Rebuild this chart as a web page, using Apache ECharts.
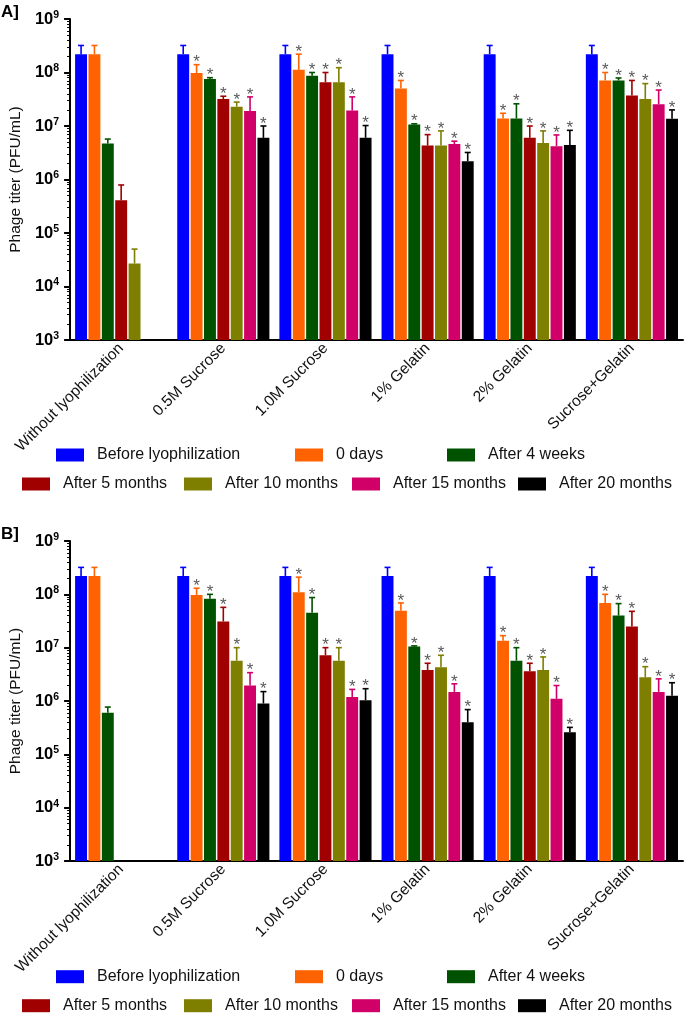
<!DOCTYPE html>
<html><head><meta charset="utf-8">
<script src="https://cdn.jsdelivr.net/npm/echarts@6/dist/echarts.min.js"></script>
<style>html,body{margin:0;padding:0;background:#fff}#c{width:685px;height:1017px}</style>
</head><body><div id="c"></div>
<script>
const categories = ['Without lyophilization','0.5M Sucrose','1.0M Sucrose','1% Gelatin','2% Gelatin','Sucrose+Gelatin'];
const seriesNames = ['Before lyophilization','0 days','After 4 weeks','After 5 months','After 10 months','After 15 months','After 20 months'];
const seriesColors = ['#0000FF','#FF6200','#005200','#A00000','#7E7E00','#D00068','#000000'];
const starredCategories = [false,true,true,true,true,true];

// Panel A values and upper error limits
const aBefore   = [2.2e8, 2.2e8, 2.2e8, 2.2e8, 2.2e8, 2.2e8];
const aDay0     = [2.2e8, 9.8e7, 1.12e8, 5.0e7, 1.38e7, 7.1e7];
const aWeek4    = [4.7e6, 7.6e7, 8.7e7, 1.07e7, 1.38e7, 7.1e7];
const aMonth5   = [4.1e5, 3.2e7, 6.6e7, 4.3e6, 6.0e6, 3.7e7];
const aMonth10  = [2.7e4, 2.3e7, 6.6e7, 4.3e6, 4.8e6, 3.2e7];
const aMonth15  = [null, 1.9e7, 1.94e7, 4.6e6, 4.2e6, 2.55e7];
const aMonth20  = [null, 6.0e6, 6.0e6, 2.2e6, 4.4e6, 1.37e7];
const aBeforeErr  = [3.2e8, 3.2e8, 3.2e8, 3.2e8, 3.2e8, 3.2e8];
const aDay0Err    = [3.2e8, 1.4e8, 2.2e8, 7.1e7, 1.73e7, 1.0e8];
const aWeek4Err   = [5.7e6, 8.0e7, 1.0e8, 1.1e7, 2.6e7, 7.9e7];
const aMonth5Err  = [7.9e5, 3.6e7, 1.0e8, 6.9e6, 1.0e7, 7.1e7];
const aMonth10Err = [5.0e4, 2.8e7, 1.23e8, 8.1e6, 8.1e6, 6.2e7];
const aMonth15Err = [null, 3.5e7, 3.5e7, 5.2e6, 6.8e6, 4.7e7];
const aMonth20Err = [null, 1.0e7, 1.02e7, 3.2e6, 8.3e6, 2.0e7];

// Panel B values and upper error limits
const bBefore   = [2.2e8, 2.2e8, 2.2e8, 2.2e8, 2.2e8, 2.2e8];
const bDay0     = [2.2e8, 9.7e7, 1.1e8, 4.9e7, 1.35e7, 6.9e7];
const bWeek4    = [6.0e5, 8.3e7, 4.5e7, 1.05e7, 5.7e6, 4.0e7];
const bMonth5   = [null, 3.1e7, 7.2e6, 3.8e6, 3.6e6, 2.5e7];
const bMonth10  = [null, 5.7e6, 5.7e6, 4.3e6, 3.8e6, 2.8e6];
const bMonth15  = [null, 1.95e6, 1.19e6, 1.48e6, 1.1e6, 1.48e6];
const bMonth20  = [null, 9.0e5, 1.03e6, 4.0e5, 2.6e5, 1.26e6];
const bBeforeErr  = [3.2e8, 3.2e8, 3.2e8, 3.2e8, 3.2e8, 3.2e8];
const bDay0Err    = [3.2e8, 1.3e8, 2.1e8, 6.9e7, 1.68e7, 1.0e8];
const bWeek4Err   = [7.7e5, 1.0e8, 8.7e7, 1.08e7, 1.0e7, 6.7e7];
const bMonth5Err  = [null, 5.7e7, 1.0e7, 5.1e6, 5.1e6, 4.8e7];
const bMonth10Err = [null, 1.0e7, 1.0e7, 7.2e6, 6.7e6, 4.4e6];
const bMonth15Err = [null, 3.4e6, 1.65e6, 2.1e6, 1.95e6, 2.6e6];
const bMonth20Err = [null, 1.5e6, 1.7e6, 6.9e5, 3.2e5, 2.2e6];

const panelTitles = ['A]', 'B]'];
const yAxisName = 'Phage titer (PFU/mL)';
const yMin = 1e3, yMax = 1e9;

const aValues = [aBefore, aDay0, aWeek4, aMonth5, aMonth10, aMonth15, aMonth20];
const aErrors = [aBeforeErr, aDay0Err, aWeek4Err, aMonth5Err, aMonth10Err, aMonth15Err, aMonth20Err];
const bValues = [bBefore, bDay0, bWeek4, bMonth5, bMonth10, bMonth15, bMonth20];
const bErrors = [bBeforeErr, bDay0Err, bWeek4Err, bMonth5Err, bMonth10Err, bMonth15Err, bMonth20Err];

const FONT = 'Liberation Sans, Arial, sans-serif';
const CAT_GAP = 0.098, BAR_GAP = 0.12, N = seriesNames.length;

const grids = [
  {left: 69, top: 19, width: 614, height: 321},
  {left: 69, top: 541, width: 614, height: 320}
];

function xAxisFor(i) {
  return {
    type: 'category', gridIndex: i, data: categories, boundaryGap: true,
    axisLine: {lineStyle: {color: '#000', width: 2}},
    axisTick: {alignWithLabel: true, length: 6, lineStyle: {color: '#000', width: 2}},
    axisLabel: {rotate: 45, fontSize: 15.5, color: '#111', margin: 6, fontFamily: FONT, interval: 0}
  };
}
function yAxisFor(i) {
  return {
    type: 'log', logBase: 10, gridIndex: i, min: yMin, max: yMax,
    name: yAxisName, nameLocation: 'middle', nameGap: 39,
    nameTextStyle: {fontSize: 15.5, color: '#111', fontFamily: FONT},
    axisLine: {show: true, lineStyle: {color: '#000', width: 2}},
    axisTick: {show: true, length: 6, lineStyle: {color: '#000', width: 2}},
    minorTick: {show: true, splitNumber: 9, length: 3, lineStyle: {color: '#000', width: 1}},
    splitLine: {show: false}, minorSplitLine: {show: false},
    axisLabel: {
      margin: 11, fontFamily: FONT,
      formatter: v => '{b|10}{s|' + Math.round(Math.log10(v)) + '}',
      rich: {
        b: {fontSize: 16.5, fontWeight: 'bold', color: '#000', fontFamily: FONT},
        s: {fontSize: 10.5, fontWeight: 'bold', color: '#000', fontFamily: FONT, padding: [0, 0, 8, 0]}
      }
    }
  };
}

function renderErr(params, api) {
  const cat = api.value(0), val = api.value(1), err = api.value(2), si = api.value(3), star = api.value(4);
  const p0 = api.coord([cat, val]);
  const p1 = api.coord([cat, err]);
  const band = api.coord([1, val])[0] - api.coord([0, val])[0];
  const usable = band * (1 - CAT_GAP);
  const bw = usable / (N + (N - 1) * BAR_GAP);
  const x = p0[0] - usable / 2 + si * bw * (1 + BAR_GAP) + bw / 2;
  const color = seriesColors[si];
  const children = [
    {type: 'line', shape: {x1: x, y1: p0[1], x2: x, y2: p1[1]}, style: {stroke: color, lineWidth: 1.6}},
    {type: 'line', shape: {x1: x - 3, y1: p1[1], x2: x + 3, y2: p1[1]}, style: {stroke: color, lineWidth: 1.6}}
  ];
  if (star) {
    children.push({type: 'text', style: {text: '*', x: x, y: p1[1] - 2, align: 'center', verticalAlign: 'middle',
      fill: '#5a5a5a', font: '17px ' + FONT}});
  }
  return {type: 'group', children: children};
}

const series = [];
[[aValues, aErrors], [bValues, bErrors]].forEach(([vals, errs], pi) => {
  vals.forEach((arr, si) => {
    series.push({
      type: 'bar', name: seriesNames[si], xAxisIndex: pi, yAxisIndex: pi, data: arr,
      barGap: (BAR_GAP * 100) + '%', barCategoryGap: (CAT_GAP * 100) + '%',
      itemStyle: {color: seriesColors[si]}, clip: true
    });
  });
  const errData = [];
  vals.forEach((arr, si) => {
    arr.forEach((v, ci) => {
      if (v != null && errs[si][ci] != null) {
        errData.push([ci, v, errs[si][ci], si, (si > 0 && starredCategories[ci]) ? 1 : 0]);
      }
    });
  });
  series.push({type: 'custom', xAxisIndex: pi, yAxisIndex: pi, data: errData, renderItem: renderErr, z: 5, clip: false});
});

// Legends: two rows per panel
const legendRows = [
  {items: [0, 1, 2], xs: [56, 295, 447], dy: 456},
  {items: [3, 4, 5, 6], xs: [22, 184, 352, 518], dy: 485}
];
const panelOffsets = [0, 521.7];
const legends = [];
panelOffsets.forEach(off => {
  legendRows.forEach(row => {
    row.items.forEach((si, k) => {
      legends.push({
        data: [seriesNames[si]], left: row.xs[k], top: row.dy + off - 9, padding: 0,
        itemWidth: 28, itemHeight: 13, icon: 'rect', selectedMode: false,
        textStyle: {fontSize: 16, color: '#111', fontFamily: FONT, padding: [0, 0, 0, 8]}
      });
    });
  });
});

const chart = echarts.init(document.getElementById('c'), null, {renderer: 'canvas'});
chart.setOption({
  backgroundColor: '#fff',
  animation: false,
  title: [
    {text: panelTitles[0], left: 1, top: 4, padding: 0, textStyle: {fontSize: 17, fontWeight: 'bold', color: '#000', fontFamily: FONT}},
    {text: panelTitles[1], left: 1, top: 526, padding: 0, textStyle: {fontSize: 17, fontWeight: 'bold', color: '#000', fontFamily: FONT}}
  ],
  legend: legends,
  grid: grids,
  xAxis: [xAxisFor(0), xAxisFor(1)],
  yAxis: [yAxisFor(0), yAxisFor(1)],
  series: series
});
</script></body></html>
